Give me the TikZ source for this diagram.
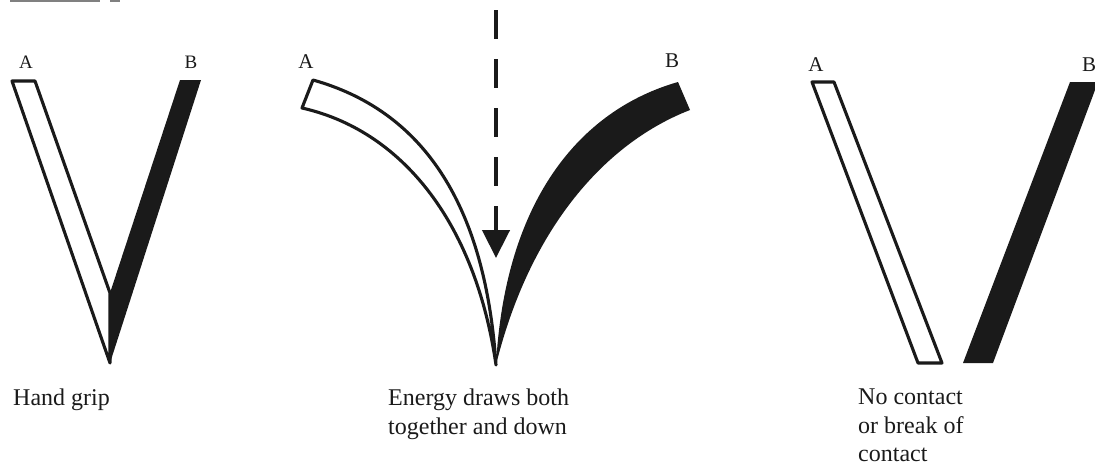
\documentclass[tikz,border=0pt]{standalone}
\usepackage{fontspec}
\setmainfont{Liberation Serif}
\usetikzlibrary{arrows.meta}
\definecolor{ink}{HTML}{1A1A1A}
\definecolor{rulegray}{HTML}{808080}

\begin{document}
\begin{tikzpicture}[
  x=1pt, y=-1pt,
  text=ink,
  hollow/.style={
    draw=ink,
    line width=3.1pt,
    line join=round,
    fill=white
  },
  blackbar/.style={fill=ink},
  letter/.style={font=\fontsize{21}{21}\selectfont, inner sep=0pt},
  smallletter/.style={letter, font=\fontsize{19}{19}\selectfont},
  caption/.style={
    font=\fontsize{24}{28.5}\selectfont,
    align=left,
    anchor=north west,
    inner sep=0pt
  },
  energy/.style={draw=ink, line width=4.5pt, dash pattern=on 29pt off 20pt,
    -{Triangle[width=27pt,length=28pt]}},
  rule/.style={draw=rulegray, line width=2pt}
]
\useasboundingbox (0,0) rectangle (1095,474);

% scrap of rule at the top edge
\draw[rule] (10,0.5) -- (100,0.5);
\draw[rule] (110,0.5) -- (120,0.5);

% hand grip
\fill[blackbar] (180,80) -- (201,80) -- (110,363) -- (110,293) -- cycle;
\draw[hollow] (12,81) -- (35,81) -- (110,293) -- (110,363) -- cycle;
\node[smallletter] (gripA) at (26,62) {A};
\node[smallletter] (gripB) at (191,62) {B};
\node[caption] (grip) at (13,389) {Hand grip};

% energy draws both
\fill[blackbar] (678,82) -- (690,110) .. controls (600,145) and (528,235) .. (496,365)
  .. controls (505,200) and (580,110) .. (678,82) -- cycle;
\draw[hollow] (313,80) .. controls (420,110) and (485,200) .. (496,365)
  .. controls (475,220) and (400,130) .. (302,108) -- cycle;
\node[letter] (drawA) at (306,62) {A};
\node[letter] (drawB) at (672,61) {B};
\coordinate (droptop) at (496,10);
\coordinate (droptip) at (496,258);
\draw[energy] (droptop) -- (droptip);
\node[caption] (draws) at (388,389) {Energy draws both\\together and down};

% no contact
\draw[hollow] (812,82) -- (834,82) -- (942,363) -- (918,363) -- cycle;
\fill[blackbar] (1070,82) -- (1098,82) -- (993,363) -- (963,363) -- cycle;
\node[letter] (breakA) at (816,65) {A};
\node[letter] (breakB) at (1089,65) {B};
\node[caption] (nocontact) at (858,389) {No contact\\or break of\\contact};

\end{tikzpicture}
\end{document}
